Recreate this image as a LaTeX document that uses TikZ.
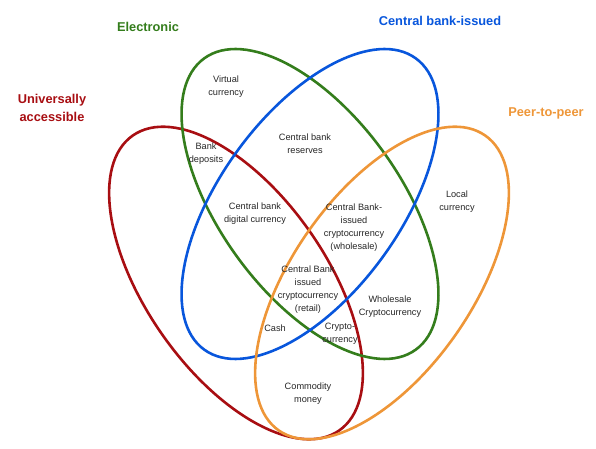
\documentclass[tikz,border=0pt]{standalone}
\usepackage{fontspec}
\setmainfont{Liberation Sans}
\usepackage{tikz}
\usetikzlibrary{positioning}
\definecolor{setred}{RGB}{168,14,18}
\definecolor{setgreen}{RGB}{52,125,28}
\definecolor{setblue}{RGB}{8,86,220}
\definecolor{setorange}{RGB}{238,150,56}

\begin{document}
\begin{tikzpicture}[x=1pt,y=1pt,
  set/.style={line width=2.6pt},
  lab/.style={align=center,inner sep=0pt,text=black!85,font=\fontsize{9.2}{13}\selectfont},
  ttl/.style={align=center,inner sep=0pt,font=\fontsize{12.8}{17.5}\selectfont\bfseries,text=#1}]
  \useasboundingbox (0,0) rectangle (596,449);
  % the four sets
  \foreach \cx/\cy/\ang/\col in {236/166/-55/setred,310/245/-54/setgreen,
                                 310/245/54/setblue,382/166/55/setorange}
    \draw[set,\col,rotate around={\ang:(\cx,\cy)}] (\cx,\cy) ellipse (180 and 90);
  % set names
  \node[ttl=setgreen] (electronic) at (148,422) {Electronic};
  \node[ttl=setblue] (cbissued) at (440,428) {Central bank-issued};
  \node[ttl=setred] (universal) at (52,341) {Universally\\accessible};
  \node[ttl=setorange] (p2p) at (546,336) {Peer-to-peer};
  % regions
  \node[lab] (virtual) at (226,362) {Virtual\\currency};
  \node[lab] (deposits) at (206,295) {Bank\\deposits};
  \node[lab] (reserves) at (305,305) {Central bank\\reserves};
  \node[lab] (cbdc) at (255,235) {Central bank\\digital currency};
  \node[lab] (wholesale) at (354,221) {Central Bank-\\issued\\cryptocurrency\\(wholesale)};
  \node[lab] (retail) at (308,159) {Central Bank\\issued\\cryptocurrency\\(retail)};
  \node[lab] (local) at (457,247) {Local\\currency};
  \node[lab] (cash) at (275,121) {Cash};
  \node[lab] (crypto) at (340,115) {Crypto-\\currency};
  \node[lab] (wcrypto) at (390,142) {Wholesale\\Cryptocurrency};
  \node[lab] (commodity) at (308,55) {Commodity\\money};
\end{tikzpicture}
\end{document}
